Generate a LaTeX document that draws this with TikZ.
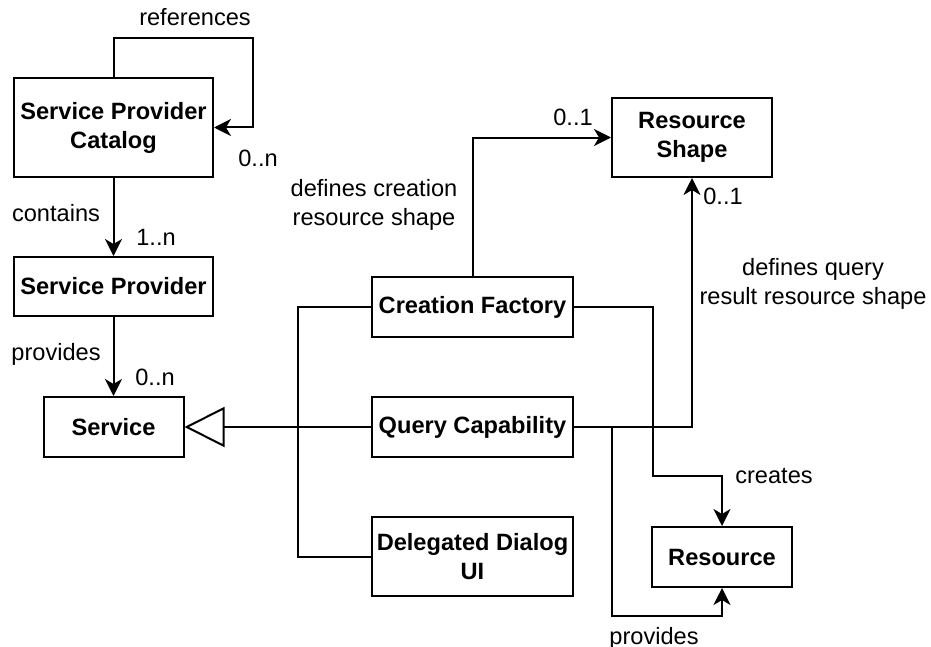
\documentclass[tikz,border=0pt]{standalone}
\usepackage{fontspec}
\setmainfont{Liberation Sans}
\usetikzlibrary{arrows.meta}

\tikzset{
  box/.style={draw, line width=1pt, inner sep=0pt, align=center,
    font=\bfseries\fontsize{11.8}{14.5}\selectfont},
  lbl/.style={inner sep=0pt, align=center, text height=8.6pt, text depth=2.4pt,
    font=\fontsize{11.8}{14.5}\selectfont},
  wire/.style={line width=1pt},
  link/.style={wire, -{Stealth[length=8.5pt,width=8.5pt,inset=2.5pt]}},
  inherit/.style={wire, -{Triangle[open,length=20pt,width=20pt]}}
}

\begin{document}
\begin{tikzpicture}[x=.5pt, y=-.5pt]
  \useasboundingbox (0,0) rectangle (931,647);
  % classes
  \node[box, minimum width=99.5pt, minimum height=49.5pt] (catalog) at (113.5,127.5) {Service Provider\\Catalog};
  \node[box, minimum width=99.5pt, minimum height=29.5pt] (provider) at (113.5,286.5) {Service Provider};
  \node[box, minimum width=70pt, minimum height=30pt] (service) at (113.5,427) {Service};
  \node[box, minimum width=80pt, minimum height=39.5pt] (shape) at (692,137.5) {Resource\\Shape};
  \node[box, minimum width=100.5pt, minimum height=30pt] (factory) at (472.5,307) {Creation Factory};
  \node[box, minimum width=100.5pt, minimum height=30pt] (query) at (472.5,427) {Query Capability};
  \node[box, minimum width=100.5pt, minimum height=39.5pt] (dialog) at (472.5,556.5) {Delegated Dialog\\UI};
  \node[box, minimum width=70pt, minimum height=30pt] (resource) at (722,557) {Resource};

  % bend points
  \coordinate (loop) at (253,38);
  \coordinate (bus) at (298,427);
  \coordinate (bend) at (653,476);
  \coordinate (drop) at (612,616);

  % left column
  \draw[link] (catalog.north) |- (loop) |- (catalog.east);
  \draw[link] (catalog) -- (provider);
  \draw[link] (provider) -- (service);
  \node[lbl] (references) at (195,19) {references};
  \node[lbl] (catmult) at (258,160) {0..n};
  \node[lbl] (contains) at (56,215) {contains};
  \node[lbl] (provmult) at (156,239) {1..n};
  \node[lbl] (provides) at (56,354) {provides};
  \node[lbl] (servmult) at (155,379) {0..n};

  % generalisation
  \draw[wire] (factory.west) -| (bus);
  \draw[wire] (dialog.west) -| (bus);
  \draw[inherit] (query.west) -- (service.east);

  % shapes and resources
  \draw[link] (factory.north) |- (shape.west);
  \draw[link] (query.east) -| (shape.south);
  \draw[link] (factory.east) -| (bend) -| (resource.north);
  \draw[link] (query.east -| drop) -- (drop) -| (resource.south);
  \node[lbl] (fmult) at (573,119) {0..1};
  \node[lbl] (fdefines) at (374,219.5) {defines creation\\resource shape};
  \node[lbl] (qmult) at (723,198) {0..1};
  \node[lbl] (qdefines) at (813,298) {defines query\\result resource shape};
  \node[lbl] (creates) at (774,477) {creates};
  \node[lbl] (qprovides) at (654,638) {provides};
\end{tikzpicture}
\end{document}
